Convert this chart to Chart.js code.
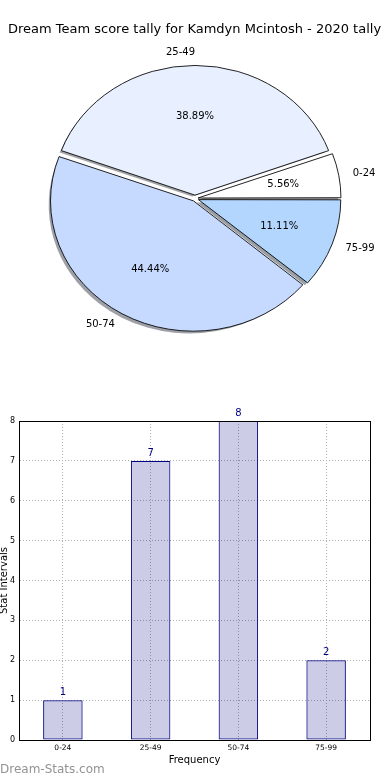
<!DOCTYPE html>
<html><head><meta charset="utf-8">
<script src="https://cdn.jsdelivr.net/npm/chart.js@4/dist/chart.umd.min.js"></script>
<style>
html,body{margin:0;padding:0;background:#fff;width:390px;height:780px;overflow:hidden}
#pie{position:absolute;left:0;top:0}
#bar{position:absolute;left:0;top:400px}
</style></head><body>
<canvas id="pie" width="390" height="400"></canvas>
<canvas id="bar" width="390" height="380"></canvas>
<script>
const chartTitle = 'Dream Team score tally for Kamdyn Mcintosh - 2020 tally';
const categories = ['0-24', '25-49', '50-74', '75-99'];
const counts = [1, 7, 8, 2];
const pieColors = ['#ffffff', '#e8f0ff', '#c6d9ff', '#b3d6ff'];
const yTickValues = [0, 1, 2, 3, 4, 5, 6, 7, 8];
const xAxisTitle = 'Frequency';
const yAxisTitle = 'Stat Intervals';
const watermark = 'Dream-Stats.com';

const FONT = '"DejaVu Sans", "Liberation Sans", sans-serif';
const SQUASH = 128.5 / 141;   // pie drawn as ellipse like the reference
const EXPLODE = 5;          // px displacement of every slice
const SHADOW_DX = -2.8, SHADOW_DY = 2.8;

// Chart.js draws clockwise; matplotlib counter-clockwise from east -> reverse order, start at east
const pieLabels = categories.slice().reverse();
const pieValues = counts.slice().reverse();
const pieFill = pieColors.slice().reverse();

function arcDisplacement(arc) {
  const off = (arc.options.offset || 0) / 4;
  const circ = arc.endAngle - arc.startAngle;
  const fix = 1 - Math.sin(Math.min(Math.PI, circ));
  return off * (1 + fix);
}
function shade(hex) {
  const n = parseInt(hex.slice(1), 16);
  const r = (n >> 16) & 255, g = (n >> 8) & 255, b = n & 255;
  return `rgba(${Math.round(r*0.3)},${Math.round(g*0.3)},${Math.round(b*0.3)},0.5)`;
}

const piePlugin = {
  id: 'piePlugin',
  beforeDatasetsDraw(chart) {
    const ctx = chart.ctx, ca = chart.chartArea;
    const cx = (ca.left + ca.right) / 2, cy = (ca.top + ca.bottom) / 2;
    ctx.save();
    ctx.translate(cx, cy); ctx.scale(1, SQUASH); ctx.translate(-cx, -cy);
    const meta = chart.getDatasetMeta(0);
    meta.data.forEach((arc, i) => {
      const mid = (arc.startAngle + arc.endAngle) / 2;
      const d = arcDisplacement(arc);
      const x = arc.x + Math.cos(mid) * d + SHADOW_DX;
      const y = arc.y + Math.sin(mid) * d + SHADOW_DY;
      ctx.beginPath();
      ctx.moveTo(x, y);
      ctx.arc(x, y, arc.outerRadius, arc.startAngle, arc.endAngle);
      ctx.closePath();
      ctx.fillStyle = shade(pieFill[i]);
      ctx.fill();
    });
  },
  afterDatasetsDraw(chart) {
    const ctx = chart.ctx, ca = chart.chartArea;
    ctx.restore();
    const cx = (ca.left + ca.right) / 2, cy = (ca.top + ca.bottom) / 2;
    const meta = chart.getDatasetMeta(0);
    const total = pieValues.reduce((a, b) => a + b, 0);
    ctx.save();
    ctx.font = '10px ' + FONT;
    ctx.fillStyle = '#000';
    ctx.textBaseline = 'middle';
    meta.data.forEach((arc, i) => {
      const mid = (arc.startAngle + arc.endAngle) / 2;
      const d = arcDisplacement(arc);
      const ox = arc.x + Math.cos(mid) * d;
      const oy = arc.y + Math.sin(mid) * d;
      const r = arc.outerRadius;
      const sy = (y) => cy + SQUASH * (y - cy);
      ctx.textAlign = 'center';
      const pct = (pieValues[i] / total * 100).toFixed(2) + '%';
      ctx.fillText(pct, ox + Math.cos(mid) * r * 0.6, sy(oy + Math.sin(mid) * r * 0.6));
      const c = Math.cos(mid);
      ctx.textAlign = c > 1e-9 ? 'left' : 'right';
      ctx.fillText(pieLabels[i], ox + c * r * 1.1, sy(oy + Math.sin(mid) * r * 1.1));
    });
    ctx.restore();
  },
  afterDraw(chart) {
    const ctx = chart.ctx;
    ctx.save();
    ctx.font = '13px ' + FONT;
    ctx.fillStyle = '#000';
    ctx.textAlign = 'center';
    ctx.textBaseline = 'middle';
    ctx.fillText(chartTitle, 194.5, 30);
    ctx.restore();
  }
};

new Chart(document.getElementById('pie'), {
  type: 'pie',
  data: {
    labels: pieLabels,
    datasets: [{
      data: pieValues,
      backgroundColor: pieFill,
      borderColor: '#000',
      borderWidth: 0.9,
      clip: false,
      offset: (c) => {
        const ds = c.dataset.data;
        const tot = ds.reduce((a, b) => a + b, 0);
        const circ = c.parsed / tot * 2 * Math.PI;
        return 4 * EXPLODE / (2 - Math.sin(Math.min(Math.PI, circ)));
      }
    }]
  },
  options: {
    responsive: false, animation: false, devicePixelRatio: 1,
    rotation: 90,
    radius: 141,
    layout: { padding: { left: 0, right: 0, top: 41, bottom: 44 } },
    plugins: { legend: { display: false }, tooltip: { enabled: false }, title: { display: false } }
  },
  plugins: [piePlugin]
});

const barPlugin = {
  id: 'barPlugin',
  afterDatasetsDraw(chart) {
    const ctx = chart.ctx, ca = chart.chartArea;
    ctx.save();
    ctx.strokeStyle = '#000';
    ctx.lineWidth = 1;
    ctx.strokeRect(Math.round(ca.left) + 0.5, Math.round(ca.top) + 0.5,
      Math.round(ca.right) - Math.round(ca.left), Math.round(ca.bottom) - Math.round(ca.top));
    const meta = chart.getDatasetMeta(0);
    ctx.font = '10px ' + FONT;
    ctx.fillStyle = '#000080';
    ctx.textAlign = 'center';
    ctx.textBaseline = 'alphabetic';
    meta.data.forEach((bar, i) => {
      ctx.fillText(String(counts[i]), bar.x, bar.y - 5);
    });
    ctx.fillStyle = '#000';
    ctx.textBaseline = 'middle';
    ctx.fillText(xAxisTitle, (ca.left + ca.right) / 2, 360.5);
    ctx.save();
    ctx.translate(4, (ca.top + ca.bottom) / 2);
    ctx.rotate(-Math.PI / 2);
    ctx.fillText(yAxisTitle, 0, 0);
    ctx.restore();
    ctx.font = '12px ' + FONT;
    ctx.fillStyle = '#939393';
    ctx.textAlign = 'left';
    ctx.fillText(watermark, 0, 370);
    ctx.restore();
  }
};

new Chart(document.getElementById('bar'), {
  type: 'bar',
  data: {
    labels: categories,
    datasets: [{
      data: counts,
      backgroundColor: 'rgba(0,0,128,0.2)',
      borderColor: '#000080',
      borderWidth: 1,
      borderSkipped: false,
      barPercentage: 0.45,
      categoryPercentage: 1
    }]
  },
  options: {
    responsive: false, animation: false, devicePixelRatio: 1,
    layout: { padding: { left: 0, right: 20, top: 21, bottom: 0 } },
    plugins: { legend: { display: false }, tooltip: { enabled: false } },
    scales: {
      x: {
        grid: { offset: false, color: '#b0b0b0', lineWidth: 1, drawTicks: false },
        border: { display: true, color: '#000', width: 1, dash: [1, 2] },
        ticks: { padding: 4, color: '#000', font: { family: FONT, size: 7.5 }, maxRotation: 0 },
        afterFit(s) { s.height = 40; }
      },
      y: {
        min: yTickValues[0], max: yTickValues[yTickValues.length - 1],
        afterBuildTicks(s) { s.ticks = yTickValues.map(v => ({ value: v })); },
        grid: { color: '#b0b0b0', lineWidth: 1, drawTicks: false },
        border: { display: true, color: '#000', width: 1, dash: [1, 2] },
        ticks: { padding: 4, color: '#000', font: { family: FONT, size: 8 } },
        afterFit(s) { s.width = 19; }
      }
    }
  },
  plugins: [barPlugin]
});
</script>
</body></html>
